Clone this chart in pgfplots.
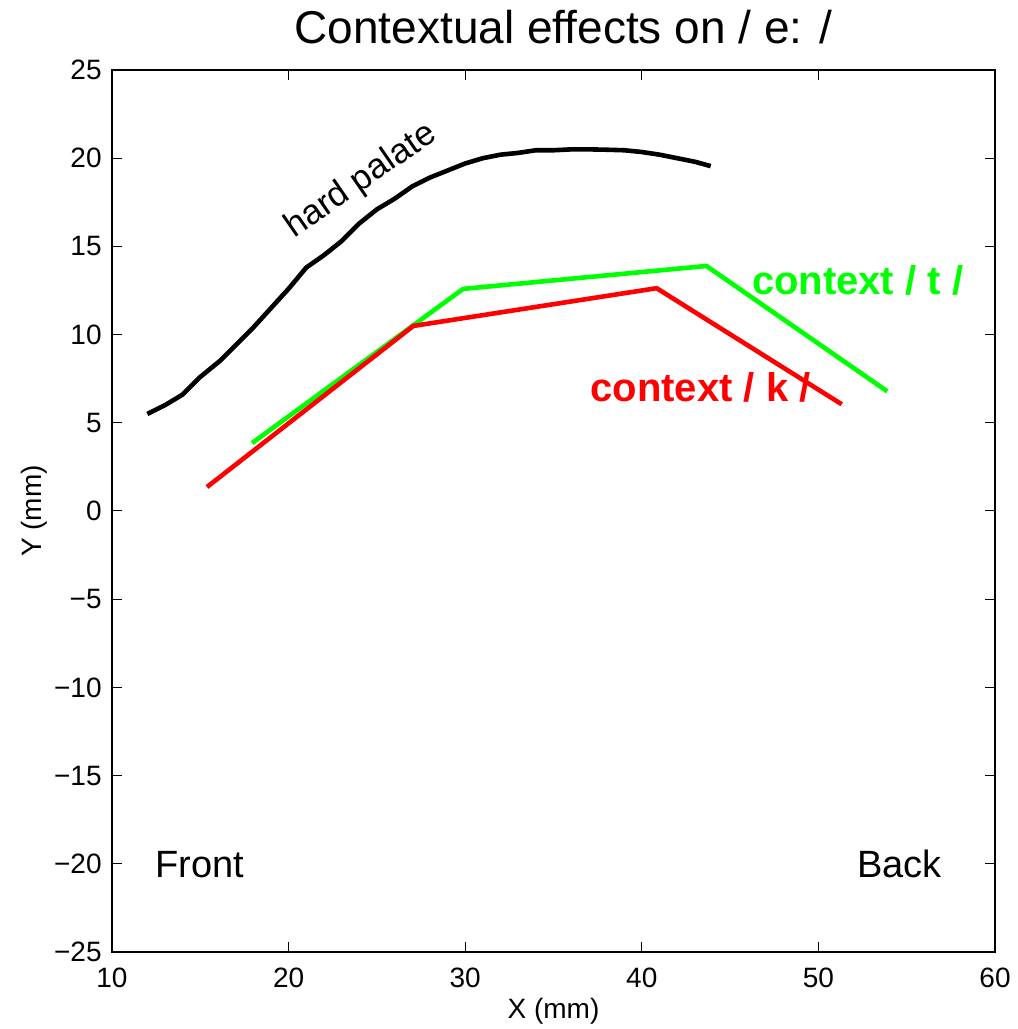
\documentclass[border=0pt]{standalone}
\usepackage{fontspec}
\setmainfont{Liberation Sans}
\usepackage{pgfplots}
\pgfplotsset{compat=1.18}

\definecolor{ctxgreen}{RGB}{0,255,0}
\definecolor{ctxred}{RGB}{255,0,0}

% hard palate outline
\pgfplotstableread{
x y
12.0 5.5
13.0 6.0
14.0 6.6
15.0 7.6
16.1 8.5
17.0 9.4
18.0 10.4
19.0 11.5
20.0 12.6
21.0 13.8
22.0 14.5
23.0 15.3
24.0 16.3
25.0 17.1
26.0 17.7
27.0 18.4
28.0 18.9
29.0 19.3
30.0 19.7
31.0 20.0
32.0 20.2
33.0 20.3
34.0 20.45
35.0 20.45
36.0 20.5
37.0 20.5
38.0 20.48
39.0 20.45
40.0 20.35
41.0 20.2
42.0 20.0
43.0 19.8
43.9 19.55
}\palate

\pgfplotstableread{
x y
17.93 3.85
29.88 12.59
43.66 13.89
53.90 6.78
}\ctxt

\pgfplotstableread{
x y
15.38 1.36
27.06 10.49
40.84 12.63
51.32 6.05
}\ctxk

\begin{document}
\begin{tikzpicture}
\begin{axis}[
    scale only axis,
    width=441.5pt, height=441pt,
    xmin=10, xmax=60, ymin=-25, ymax=25,
    xtick={10,20,...,60},
    ytick={-25,-20,...,25},
    yticklabels={−25,−20,−15,−10,−5,0,5,10,15,20,25},
    tick align=inside,
    major tick length=5pt,
    tick style={black, line width=0.5pt},
    axis line style={line width=0.6pt},
    /pgf/number format/assume math mode=true,
    ticklabel style={font=\fontsize{14}{14}\selectfont, inner sep=0pt},
    xticklabel style={anchor=north, yshift=-8pt},
    yticklabel style={anchor=east, xshift=-5pt},
    title={Contextual effects on / e: /},
    title style={font=\fontsize{23}{23}\selectfont, inner sep=0pt,
        at={([xshift=5pt,yshift=7pt]axis description cs:0.5,1)}, anchor=base},
    xlabel={X (mm)},
    xlabel style={font=\fontsize{14}{14}\selectfont, inner sep=0pt,
        at={([yshift=-33pt]axis description cs:0.5,0)}, anchor=base},
    ylabel={Y (mm)},
    ylabel style={font=\fontsize{14}{14}\selectfont, inner sep=0pt,
        at={([xshift=-35pt]axis description cs:0,0.5)}, rotate=0, anchor=base},
    clip=false,
    every axis plot/.append style={line width=2.3pt, line join=round},
]
\addplot[black] table {\palate};
\addplot[ctxgreen] table {\ctxt};
\addplot[ctxred] table {\ctxk};

\node[rotate=34.6, inner sep=0pt, font=\fontsize{17.5}{17.5}\selectfont] at (axis cs:24.1,18.7) {hard palate};
\node[anchor=base west, inner sep=0pt, text=ctxgreen, font=\fontsize{20}{20}\selectfont\bfseries]
    at (axis cs:46.22,12.28) {context / t /};
\node[anchor=base west, inner sep=0pt, text=ctxred, font=\fontsize{20}{20}\selectfont\bfseries]
    at (axis cs:37.07,6.2) {context / k /};
\node[anchor=base west, inner sep=0pt, font=\fontsize{19}{19}\selectfont]
    at (axis cs:12.43,-20.75) {Front};
\node[anchor=base east, inner sep=0pt, font=\fontsize{19}{19}\selectfont]
    at (axis cs:57.0,-20.75) {Back};
\end{axis}
\path (current axis.south west) ++(-56pt,-38.5pt);
\path (current axis.north east) ++(11pt,35pt);
\end{tikzpicture}
\end{document}
